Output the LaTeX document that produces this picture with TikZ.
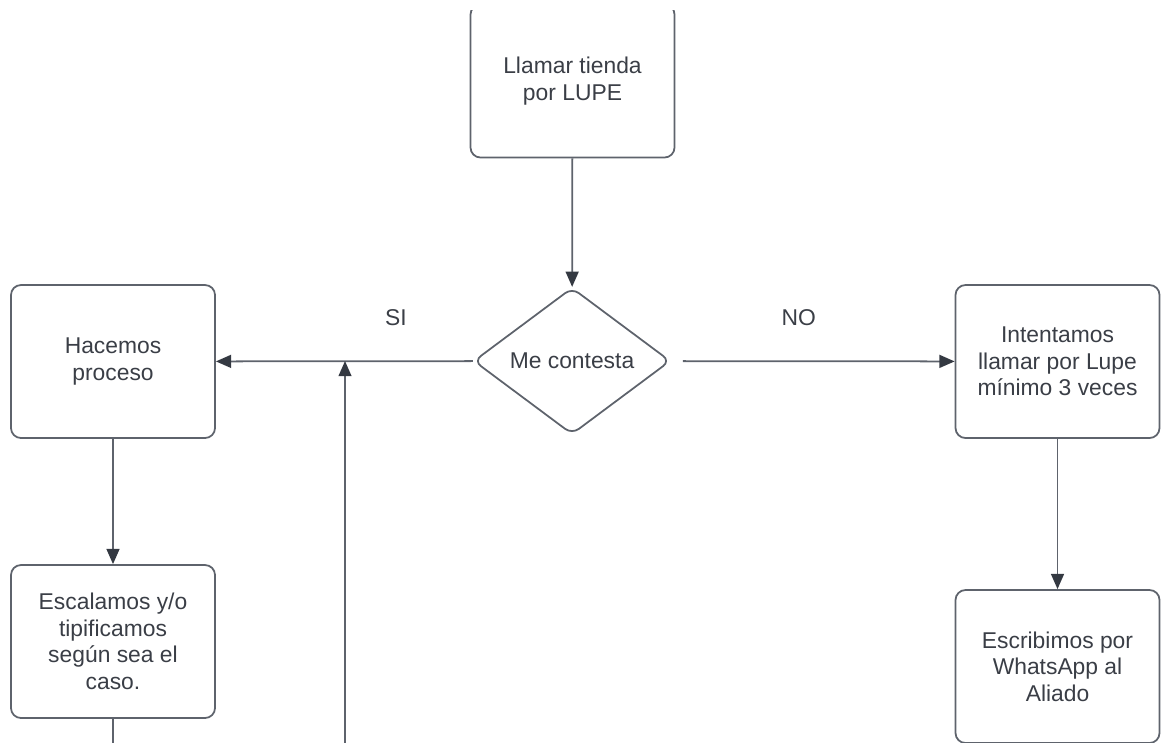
\documentclass[tikz,border=0pt]{standalone}
\usepackage{fontspec}
\setmainfont{Liberation Sans}
\usetikzlibrary{shapes.geometric,arrows.meta}
\definecolor{linegray}{RGB}{94,99,108}
\definecolor{textgray}{RGB}{58,62,70}
\definecolor{tipgray}{RGB}{52,57,66}
\begin{document}
\begin{tikzpicture}[x=0.03cm,y=-0.03cm,
        flowtext/.style={text=textgray,font=\fontsize{19.5}{22.6}\selectfont},
        stepbox/.style={flowtext,draw=linegray,line width=1.5pt,rounded corners=0.3cm,
            minimum width=6.12cm,minimum height=4.59cm,align=center,inner sep=0pt},
        decision/.style={flowtext,draw=linegray,line width=1.5pt,diamond,aspect=1.34,
            rounded corners=0.25cm,minimum width=5.9cm,minimum height=4.4cm,inner sep=0pt},
        flow/.style={draw=linegray,line width=1.5pt,
            -{Triangle[length=13pt,width=11pt,fill=tipgray,color=tipgray]}}]
        \useasboundingbox (0,0) rectangle (1161,742);
        \clip (0,10) rectangle (1161,742);
        %% boxes
        \node[stepbox] (llamar) at (572.5,81) {Llamar tienda\\por LUPE};
        \node[decision] (contesta) at (572,361) {Me contesta};
        \node[stepbox] (hacemos) at (113,361.5) {Hacemos\\proceso};
        \node[stepbox] (escalamos) at (113,641.5) {Escalamos y/o\\tipificamos\\según sea el\\caso.};
        \node[stepbox] (intentamos) at (1057.5,361.5) {Intentamos\\llamar por Lupe\\mínimo 3 veces};
        \node[stepbox] (escribimos) at (1057.5,666.5) {Escribimos por\\WhatsApp al\\Aliado};
        %% loose ends
        \coordinate (retorno) at (345,361);
        \coordinate (retornoIn) at (345,760);
        \coordinate (escalamosOut) at (113,760);
        %% connectors
        \draw[flow] (llamar) -- (contesta);
        \draw[flow] (contesta) -- (hacemos)
            node[pos=0.3,yshift=1.3cm,flowtext] (si) {SI};
        \draw[flow,shorten <=10pt] (contesta) -- (intentamos)
            node[pos=0.45,yshift=1.3cm,flowtext] (no) {NO};
        \draw[flow] (hacemos) -- (escalamos);
        \draw[flow] (intentamos) -- (escribimos);
        \draw[flow] (retornoIn) -- (retorno);
        \draw[draw=linegray,line width=1.5pt] (escalamos) -- (escalamosOut);
    \end{tikzpicture}
\end{document}
